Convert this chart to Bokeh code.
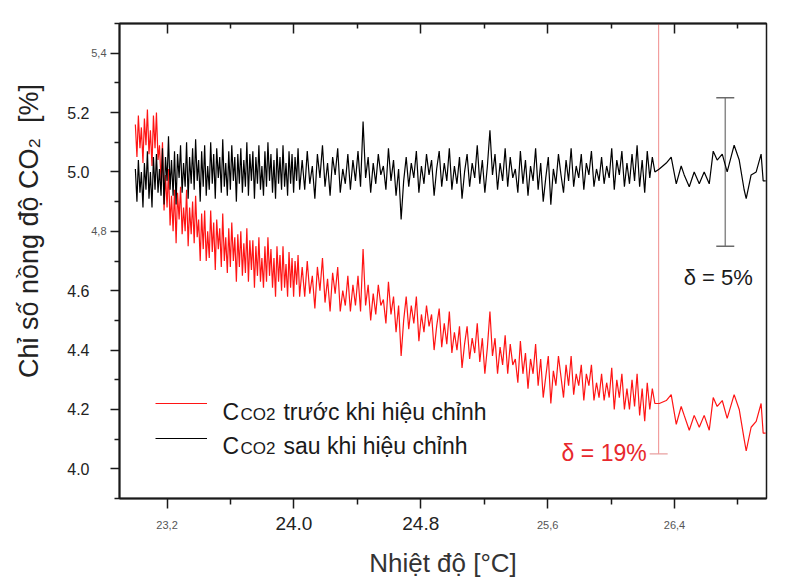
from bokeh.plotting import figure
from bokeh.models import (Range1d, FixedTicker, LinearAxis, Label, Legend,
                          LegendItem, Whisker, TeeHead, PrintfTickFormatter)
from bokeh.embed import file_html
from bokeh.resources import INLINE

FONT = "Liberation Sans"

# ---------------- data ----------------
temp_c = [
    23.000, 23.010, 23.019, 23.029, 23.038, 23.048, 23.057, 23.067, 23.076, 23.086,
    23.095, 23.105, 23.114, 23.124, 23.133, 23.143, 23.152, 23.162, 23.171, 23.181,
    23.190, 23.200, 23.209, 23.219, 23.228, 23.238, 23.247, 23.257, 23.266, 23.276,
    23.285, 23.295, 23.304, 23.314, 23.323, 23.333, 23.342, 23.352, 23.361, 23.371,
    23.380, 23.390, 23.399, 23.409, 23.418, 23.428, 23.437, 23.447, 23.456, 23.466,
    23.475, 23.485, 23.494, 23.504, 23.513, 23.523, 23.532, 23.542, 23.551, 23.561,
    23.570, 23.580, 23.589, 23.599, 23.608, 23.618, 23.627, 23.637, 23.646, 23.656,
    23.665, 23.675, 23.684, 23.694, 23.703, 23.713, 23.722, 23.732, 23.741, 23.751,
    23.760, 23.770, 23.779, 23.789, 23.798, 23.808, 23.817, 23.827, 23.836, 23.846,
    23.855, 23.865, 23.874, 23.884, 23.893, 23.903, 23.912, 23.922, 23.931, 23.941,
    23.950, 23.960, 23.969, 23.979, 23.988, 23.998, 24.007, 24.017, 24.026, 24.036,
    24.052, 24.068, 24.084, 24.100, 24.116, 24.132, 24.148, 24.164, 24.180, 24.196,
    24.212, 24.228, 24.244, 24.260, 24.276, 24.292, 24.308, 24.324, 24.340, 24.356,
    24.372, 24.388, 24.404, 24.420, 24.436, 24.452, 24.468, 24.484, 24.500, 24.516,
    24.532, 24.548, 24.564, 24.580, 24.596, 24.612, 24.628, 24.644, 24.660, 24.676,
    24.692, 24.708, 24.724, 24.740, 24.756, 24.772, 24.788, 24.804, 24.820, 24.836,
    24.852, 24.868, 24.884, 24.900, 24.916, 24.932, 24.948, 24.964, 24.980, 24.996,
    25.012, 25.028, 25.044, 25.060, 25.076, 25.092, 25.108, 25.124, 25.140, 25.156,
    25.172, 25.188, 25.204, 25.220, 25.236, 25.252, 25.268, 25.284, 25.300, 25.316,
    25.332, 25.348, 25.364, 25.380, 25.396, 25.412, 25.428, 25.444, 25.460, 25.476,
    25.492, 25.508, 25.524, 25.540, 25.556, 25.572, 25.588, 25.604, 25.620, 25.636,
    25.652, 25.668, 25.684, 25.700, 25.716, 25.732, 25.748, 25.764, 25.780, 25.796,
    25.812, 25.828, 25.844, 25.860, 25.876, 25.892, 25.908, 25.924, 25.940, 25.956,
    25.972, 25.988, 26.004, 26.020, 26.036, 26.052, 26.068, 26.084, 26.100, 26.116,
    26.132, 26.148, 26.164, 26.180, 26.196, 26.212, 26.228, 26.244, 26.260, 26.276,
    26.304, 26.348, 26.379, 26.411, 26.442, 26.461, 26.493, 26.524, 26.556, 26.587,
    26.619, 26.644, 26.669, 26.701, 26.732, 26.776, 26.808, 26.839, 26.852, 26.883,
    26.915, 26.946, 26.959, 26.975,
]

# C_CO2 before correction (red)
co2_before = [
    5.16, 5.05, 5.19, 5.08, 5.15, 5.03, 5.18, 5.09, 5.21, 5.06,
    5.14, 5.02, 5.19, 5.08, 5.20, 5.04, 5.09, 4.97, 5.10, 4.87,
    4.99, 4.88, 5.01, 4.82, 4.92, 4.80, 4.94, 4.76, 4.93, 4.84,
    4.95, 4.79, 4.88, 4.80, 4.94, 4.75, 4.88, 4.79, 4.90, 4.76,
    4.92, 4.78, 4.84, 4.70, 4.86, 4.74, 4.87, 4.70, 4.80, 4.71,
    4.87, 4.73, 4.83, 4.67, 4.84, 4.74, 4.81, 4.68, 4.86, 4.70,
    4.78, 4.66, 4.81, 4.68, 4.83, 4.70, 4.78, 4.63, 4.79, 4.68,
    4.80, 4.65, 4.76, 4.66, 4.81, 4.63, 4.77, 4.67, 4.77, 4.61,
    4.75, 4.65, 4.78, 4.63, 4.71, 4.61, 4.75, 4.63, 4.78, 4.65,
    4.74, 4.61, 4.71, 4.58, 4.75, 4.63, 4.72, 4.60, 4.75, 4.61,
    4.69, 4.58, 4.73, 4.61, 4.71, 4.58, 4.70, 4.62, 4.72, 4.58,
    4.68, 4.58, 4.70, 4.59, 4.65, 4.54, 4.68, 4.60, 4.71, 4.56,
    4.64, 4.53, 4.66, 4.59, 4.68, 4.53, 4.60, 4.55, 4.65, 4.53,
    4.62, 4.55, 4.65, 4.53, 4.74, 4.55, 4.62, 4.50, 4.59, 4.52,
    4.62, 4.55, 4.57, 4.49, 4.63, 4.52, 4.58, 4.46, 4.55, 4.38,
    4.50, 4.58, 4.47, 4.55, 4.49, 4.58, 4.43, 4.52, 4.46, 4.55,
    4.48, 4.52, 4.40, 4.48, 4.54, 4.41, 4.49, 4.42, 4.53, 4.39,
    4.46, 4.40, 4.48, 4.34, 4.42, 4.48, 4.37, 4.44, 4.39, 4.49,
    4.36, 4.44, 4.32, 4.41, 4.53, 4.38, 4.44, 4.32, 4.41, 4.35,
    4.45, 4.32, 4.42, 4.35, 4.37, 4.29, 4.43, 4.32, 4.39, 4.27,
    4.37, 4.32, 4.42, 4.28, 4.37, 4.24, 4.31, 4.38, 4.22, 4.33,
    4.28, 4.38, 4.31, 4.24, 4.35, 4.28, 4.38, 4.25, 4.32, 4.28,
    4.35, 4.23, 4.32, 4.28, 4.35, 4.23, 4.29, 4.24, 4.32, 4.23,
    4.29, 4.24, 4.34, 4.20, 4.30, 4.24, 4.32, 4.20, 4.27, 4.20,
    4.30, 4.21, 4.32, 4.18, 4.27, 4.16, 4.29, 4.20, 4.27, 4.22,
    4.22, 4.23, 4.25, 4.15, 4.21, 4.18, 4.13, 4.18, 4.14, 4.18,
    4.13, 4.24, 4.21, 4.23, 4.17, 4.25, 4.20, 4.10, 4.06, 4.14,
    4.16, 4.22, 4.12, 4.12,
]

# C_CO2 after correction (black)
co2_after = [
    5.01, 4.90, 5.04, 4.93, 5.00, 4.88, 5.03, 4.94, 5.07, 4.91,
    5.00, 4.88, 5.05, 4.94, 5.06, 4.93, 5.01, 4.92, 5.08, 4.89,
    5.05, 4.97, 5.12, 4.94, 5.04, 4.92, 5.07, 4.89, 5.06, 4.98,
    5.09, 4.93, 5.03, 4.95, 5.10, 4.91, 5.05, 4.96, 5.08, 4.94,
    5.11, 4.97, 5.04, 4.90, 5.07, 4.95, 5.09, 4.92, 5.02, 4.94,
    5.10, 4.96, 5.06, 4.91, 5.08, 4.98, 5.05, 4.93, 5.11, 4.95,
    5.03, 4.92, 5.07, 4.94, 5.09, 4.97, 5.05, 4.90, 5.06, 4.96,
    5.08, 4.93, 5.04, 4.95, 5.10, 4.92, 5.06, 4.97, 5.07, 4.91,
    5.05, 4.96, 5.09, 4.94, 5.02, 4.92, 5.07, 4.95, 5.10, 4.97,
    5.06, 4.93, 5.04, 4.91, 5.08, 4.96, 5.05, 4.94, 5.09, 4.95,
    5.03, 4.92, 5.07, 4.96, 5.06, 4.93, 5.05, 4.97, 5.08, 4.94,
    5.04, 4.94, 5.07, 4.96, 5.02, 4.91, 5.06, 4.98, 5.09, 4.95,
    5.03, 4.92, 5.05, 4.99, 5.08, 4.93, 5.01, 4.96, 5.06, 4.94,
    5.04, 4.97, 5.07, 4.95, 5.17, 4.98, 5.05, 4.93, 5.03, 4.96,
    5.06, 4.99, 5.02, 4.94, 5.08, 4.97, 5.04, 4.92, 5.01, 4.84,
    4.97, 5.05, 4.95, 5.03, 4.98, 5.07, 4.93, 5.02, 4.96, 5.06,
    4.99, 5.04, 4.92, 5.01, 5.07, 4.95, 5.03, 4.97, 5.08, 4.94,
    5.02, 4.96, 5.05, 4.91, 5.00, 5.06, 4.95, 5.03, 4.98, 5.09,
    4.96, 5.04, 4.93, 5.02, 5.14, 4.99, 5.06, 4.94, 5.03, 4.97,
    5.08, 4.95, 5.05, 4.98, 5.01, 4.93, 5.07, 4.96, 5.04, 4.92,
    5.02, 4.97, 5.08, 4.94, 5.03, 4.90, 4.98, 5.05, 4.89, 5.01,
    4.96, 5.06, 4.99, 4.93, 5.04, 4.97, 5.08, 4.95, 5.02, 4.98,
    5.06, 4.94, 5.03, 4.99, 5.07, 4.95, 5.01, 4.97, 5.05, 4.96,
    5.02, 4.98, 5.08, 4.94, 5.04, 4.99, 5.07, 4.95, 5.03, 4.96,
    5.06, 4.97, 5.09, 4.95, 5.04, 4.93, 5.07, 4.98, 5.05, 5.00,
    5.01, 5.03, 5.05, 4.96, 5.02, 4.99, 4.95, 5.00, 4.96, 5.00,
    4.96, 5.07, 5.04, 5.06, 5.00, 5.09, 5.04, 4.94, 4.91, 4.99,
    5.00, 5.06, 4.97, 4.97,
]

# tick values: big labels, small (comma) labels, minor ticks
x_big_ticks = [24.0, 24.8]
x_small_ticks = {23.2: "23,2", 25.6: "25,6", 26.4: "26,4"}
x_minor_ticks = [23.6, 24.4, 25.2, 26.0, 26.8]

y_big_ticks = [4.0, 4.2, 4.4, 4.6, 5.0, 5.2]
y_small_ticks = {4.8: "4,8", 5.4: "5,4"}
y_minor_ticks = [3.9, 4.1, 4.3, 4.5, 4.7, 4.9, 5.1, 5.3, 5.5]

# error bars: (position, low, high)
after_bar = (26.72, 4.75, 5.25)
before_bar = (26.30, 4.05, 5.62)

X_START, X_END = 22.9, 26.98
Y_START, Y_END = 3.9, 5.5

x_all_major = sorted(x_big_ticks + list(x_small_ticks))
y_all_major = sorted(y_big_ticks + list(y_small_ticks))

# ---------------- figure ----------------
p = figure(width=800, height=582, output_backend="svg", toolbar_location=None,
           x_range=Range1d(X_START, X_END), y_range=Range1d(Y_START, Y_END),
           min_border_left=119, min_border_right=34,
           min_border_top=23, min_border_bottom=84)
p.xgrid.grid_line_color = None
p.ygrid.grid_line_color = None
p.outline_line_color = "#1a1a1a"
p.outline_line_width = 1.5
p.background_fill_color = "white"
p.border_fill_color = "white"

AX = "#1a1a1a"


def style_ticks(a, major_out, minor_out):
    a.axis_line_width = 2
    a.axis_line_color = AX
    a.major_tick_line_width = 1.5
    a.major_tick_line_color = AX
    a.minor_tick_line_width = 1.5
    a.minor_tick_line_color = AX
    a.major_tick_in = 0
    a.major_tick_out = major_out
    a.minor_tick_in = 0
    a.minor_tick_out = minor_out


# inner bottom axis: all tick marks + small comma labels
xa = p.xaxis[0]
xa.ticker = FixedTicker(ticks=x_all_major, minor_ticks=x_minor_ticks)
xa.major_label_overrides = {**{t: "" for t in x_big_ticks}, **x_small_ticks}
style_ticks(xa, 10, 6)
xa.major_label_text_font = FONT
xa.major_label_text_font_size = "11px"
xa.major_label_text_color = "#555555"
xa.major_label_standoff = 12

# outer bottom axis: big labels only
xb = LinearAxis(ticker=FixedTicker(ticks=x_big_ticks, minor_ticks=[]),
                formatter=PrintfTickFormatter(format="%.1f"),
                axis_line_color=None, major_tick_line_color=None, minor_tick_line_color=None,
                major_tick_in=0, major_tick_out=0, minor_tick_in=0, minor_tick_out=0,
                major_label_text_font=FONT, major_label_text_font_size="19px",
                major_label_text_color="#222222", major_label_standoff=-15,
                axis_label="Nhiệt độ [°C]", axis_label_text_font=FONT,
                axis_label_text_font_size="26px", axis_label_text_font_style="normal",
                axis_label_text_color="#333333", axis_label_standoff=15)
p.add_layout(xb, "below")

# inner left axis: all tick marks + small comma labels
ya = p.yaxis[0]
ya.ticker = FixedTicker(ticks=y_all_major, minor_ticks=y_minor_ticks)
ya.major_label_overrides = {**{t: "" for t in y_big_ticks}, **y_small_ticks}
style_ticks(ya, 9, 5)
ya.major_label_text_font = FONT
ya.major_label_text_font_size = "11px"
ya.major_label_text_color = "#555555"
ya.major_label_standoff = 4

# outer left axis: big labels + axis title
yb = LinearAxis(ticker=FixedTicker(ticks=y_big_ticks, minor_ticks=[]),
                formatter=PrintfTickFormatter(format="%.1f"),
                axis_line_color=None, major_tick_line_color=None, minor_tick_line_color=None,
                major_tick_in=0, major_tick_out=0, minor_tick_in=0, minor_tick_out=0,
                major_label_text_font=FONT, major_label_text_font_size="16px",
                major_label_text_color="#222222", major_label_standoff=-1,
                axis_label="\u00a0" * 8 + "Chỉ số nồng độ CO₂\u00a0 [%]",
                axis_label_text_font=FONT, axis_label_text_font_size="27px",
                axis_label_text_font_style="normal", axis_label_text_color="#222222",
                axis_label_standoff=20)
p.add_layout(yb, "left")

top = LinearAxis(ticker=FixedTicker(ticks=x_all_major, minor_ticks=x_minor_ticks),
                 major_label_text_font_size="0px", major_label_standoff=0)
style_ticks(top, 0, 0)
top.major_tick_in = 10
top.minor_tick_in = 5
p.add_layout(top, "above")

# ---------------- series ----------------
r_red = p.line(temp_c, co2_before, line_color="#ff1414", line_width=1.2)
r_blk = p.line(temp_c, co2_after, line_color="#000000", line_width=1.2)

# ---------------- error bars ----------------
bx, blo, bhi = before_bar
p.add_layout(Whisker(base=bx, lower=blo, upper=bhi, dimension="height",
                     line_color="#f08c8c", line_width=1,
                     lower_head=TeeHead(size=18, line_color="#e8a0a0", line_width=1.2),
                     upper_head=None))
ax_, alo, ahi = after_bar
p.add_layout(Whisker(base=ax_, lower=alo, upper=ahi, dimension="height",
                     line_color="#8a8a8a", line_width=1.5,
                     lower_head=TeeHead(size=18, line_color="#6a6a6a", line_width=1.5),
                     upper_head=TeeHead(size=18, line_color="#6a6a6a", line_width=1.5)))

p.add_layout(Label(x=ax_, y=4.643, x_offset=-7, text="δ = 5%", text_align="center",
                   text_baseline="alphabetic", text_font=FONT, text_font_size="22px",
                   text_color="#1a1a1a"))
p.add_layout(Label(x=bx, y=4.054, x_offset=-12, text="δ = 19%", text_align="right",
                   text_baseline="alphabetic", text_font=FONT, text_font_size="23px",
                   text_color="#e8282d"))

# ---------------- legend ----------------
legend = Legend(items=[LegendItem(label=" ", renderers=[r_red]),
                       LegendItem(label=" ", renderers=[r_blk])],
                location=(36, 50), padding=0, margin=0, spacing=15,
                glyph_width=52, glyph_height=20, label_height=20, label_width=1,
                label_standoff=0, label_text_font_size="1px",
                border_line_color=None, background_fill_alpha=0)
p.add_layout(legend)

LX = 23.549
for base_y, sub_y, words in [(4.193, 4.183, "trước khi hiệu chỉnh"),
                              (4.078, 4.068, "sau khi hiệu chỉnh")]:
    p.add_layout(Label(x=LX, y=base_y, text="C", text_baseline="alphabetic",
                       text_font=FONT, text_font_size="23px", text_color="#1a1a1a"))
    p.add_layout(Label(x=LX, y=sub_y, x_offset=18, text="CO2", text_baseline="alphabetic",
                       text_font=FONT, text_font_size="17px", text_color="#1a1a1a"))
    p.add_layout(Label(x=LX, y=base_y, x_offset=61, text=words, text_baseline="alphabetic",
                       text_font=FONT, text_font_size="23px", text_color="#1a1a1a"))

open("out.html", "w").write(file_html(p, INLINE))
